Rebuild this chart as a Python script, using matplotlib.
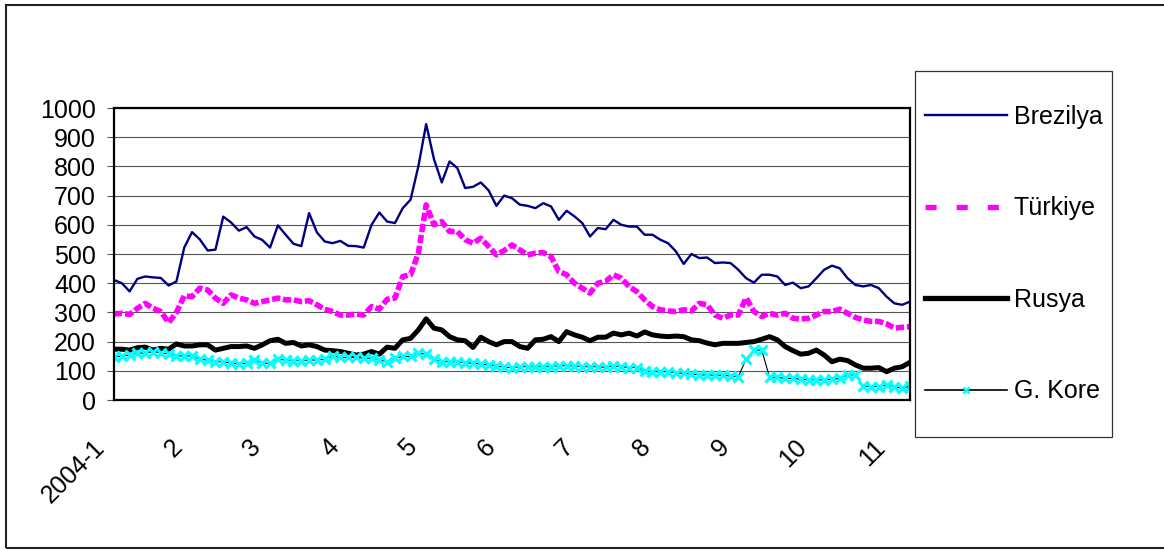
import numpy as np
import matplotlib
matplotlib.use('Agg')
import matplotlib.pyplot as plt
from matplotlib.lines import Line2D
from matplotlib.patches import Rectangle
from matplotlib.transforms import ScaledTranslation

plt.rcParams['font.family'] = ['Liberation Sans', 'DejaVu Sans']

# readings taken every tenth of a month, 2004-1 = 0
months = np.round(np.arange(0, 10.25, 0.1), 1)

month_labels = ['2004-1', '2', '3', '4', '5', '6', '7', '8', '9', '10', '11']
series_names = ['Brezilya', 'Türkiye', 'Rusya', 'G. Kore']

brezilya = [411, 400, 372, 415, 423, 420, 418, 392, 406, 522,
            575, 550, 512, 515, 628, 608, 580, 592, 560, 548,
            522, 598, 566, 535, 527, 640, 574, 543, 537, 545,
            528, 527, 522, 600, 642, 611, 606, 657, 686, 800,
            945, 825, 745, 817, 794, 726, 730, 745, 718, 665,
            700, 691, 669, 665, 657, 674, 663, 617, 648, 629,
            606, 560, 589, 585, 617, 600, 594, 594, 566, 566,
            549, 537, 509, 466, 500, 486, 488, 469, 471, 469,
            446, 417, 402, 429, 429, 423, 394, 402, 383, 389,
            417, 446, 460, 451, 417, 394, 389, 394, 383, 354,
            331, 326, 337]

turkiye = [295, 297, 293, 314, 331, 314, 303, 265, 300, 357,
           354, 383, 377, 349, 331, 360, 349, 343, 331, 337,
           343, 349, 343, 343, 337, 340, 326, 311, 303, 291,
           291, 294, 291, 320, 311, 345, 349, 423, 429, 503,
           668, 600, 611, 577, 577, 549, 537, 554, 526, 497,
           512, 531, 514, 497, 503, 505, 491, 440, 429, 400,
           383, 366, 400, 406, 429, 417, 389, 371, 343, 320,
           309, 305, 303, 309, 305, 331, 326, 291, 280, 291,
           291, 350, 303, 286, 297, 291, 297, 280, 277, 280,
           291, 303, 303, 311, 297, 283, 274, 269, 269, 261,
           246, 249, 251]

rusya = [174, 174, 171, 179, 181, 171, 177, 174, 192, 185,
         185, 189, 189, 171, 177, 183, 183, 185, 177, 189,
         203, 208, 194, 197, 185, 189, 183, 171, 169, 166,
         160, 154, 157, 166, 157, 181, 177, 206, 211, 240,
         278, 246, 240, 217, 206, 203, 180, 215, 200, 189,
         200, 200, 183, 177, 206, 208, 217, 200, 234, 223,
         215, 203, 215, 215, 229, 223, 229, 219, 233, 223,
         219, 217, 219, 217, 206, 203, 195, 189, 194, 194,
         194, 197, 200, 208, 217, 206, 183, 169, 157, 160,
         171, 154, 131, 140, 135, 120, 109, 109, 111, 97,
         109, 114, 129]

gkore = [146, 151, 154, 162, 160, 166, 162, 157, 151, 151,
         151, 139, 137, 131, 131, 126, 123, 126, 137, 126,
         126, 139, 137, 135, 135, 137, 137, 139, 151, 146,
         146, 146, 143, 143, 137, 131, 143, 149, 149, 160,
         157, 139, 131, 131, 131, 128, 126, 123, 120, 117,
         112, 111, 114, 114, 114, 114, 114, 118, 117, 117,
         114, 114, 114, 112, 117, 114, 111, 111, 100, 97,
         97, 97, 94, 91, 89, 86, 86, 85, 85, 82,
         80, 140, 171, 171, 78, 78, 74, 74, 71, 69,
         69, 69, 71, 74, 86, 86, 48, 46, 46, 51,
         46, 40, 48]

W, H = 1164, 550
fig = plt.figure(figsize=(W / 100, H / 100), dpi=100)

# outer chart border (right side runs off the picture)
fig.patches.append(Rectangle((6 / W, 1 - 548 / H), 1.02, (548 - 5) / H, transform=fig.transFigure,
                             fill=False, edgecolor='#222222', lw=1.5))

ax = fig.add_axes([114 / W, 1 - 400 / H, (910 - 114) / W, (400 - 108) / H])

ax.plot(months, brezilya, color='#000080', lw=1.7)
ax.plot(months, turkiye, color='#ff00ff', lw=4.0, dashes=(1.5, 0.5), dash_capstyle='butt')
ax.plot(months, rusya, color='black', lw=3.6, solid_joinstyle='round')
ax.plot(months, gkore, color='black', lw=0.8, marker='x', ms=6.5, mec='#00ffff', mew=2.2)

ax.set_xlim(0, 10.2)
ax.set_ylim(0, 1000)
ax.set_yticks(range(0, 1001, 100))
ax.set_xticks(range(len(month_labels)))
ax.set_xticklabels(month_labels)

ax.grid(axis='y', color='#555555', lw=0.8)
ax.set_axisbelow(True)
for s in ax.spines.values():
    s.set_linewidth(1.6)
    s.set_color('black')
ax.tick_params(axis='y', direction='out', length=5, width=0.8, color='#555555', pad=8, labelsize=18)
ax.tick_params(axis='x', length=0, pad=27, labelsize=18)

# nudge the slanted month labels down-left like the original
shift = ScaledTranslation(-0.13, -0.06, fig.dpi_scale_trans)
for lbl in ax.get_xticklabels():
    lbl.set_rotation(45)
    lbl.set_ha('right')
    lbl.set_va('center')
    lbl.set_rotation_mode('anchor')
    lbl.set_transform(lbl.get_transform() + shift)

# legend box
fig.patches.append(Rectangle((915 / W, 1 - 437 / H), 197 / W, 366 / H, transform=fig.transFigure,
                             facecolor='white', edgecolor='#333333', lw=0.9))

handles = [Line2D([], [], color='#000080', lw=1.7),
           Line2D([], [], color='#ff00ff', lw=3.8, dashes=(2.1, 3.8), dash_capstyle='butt'),
           Line2D([], [], color='black', lw=3.8),
           Line2D([], [], color='black', lw=1.2, marker='x', ms=5, mec='#00ffff', mew=1.8)]
fig.legend(handles, series_names, loc='center', bbox_to_anchor=(1013.5 / W, 1 - 254 / H),
           frameon=False, fontsize=18, handlelength=3.3, handletextpad=0.25,
           labelspacing=2.7, numpoints=1, borderpad=0)

fig.savefig('out.png', dpi=100)
